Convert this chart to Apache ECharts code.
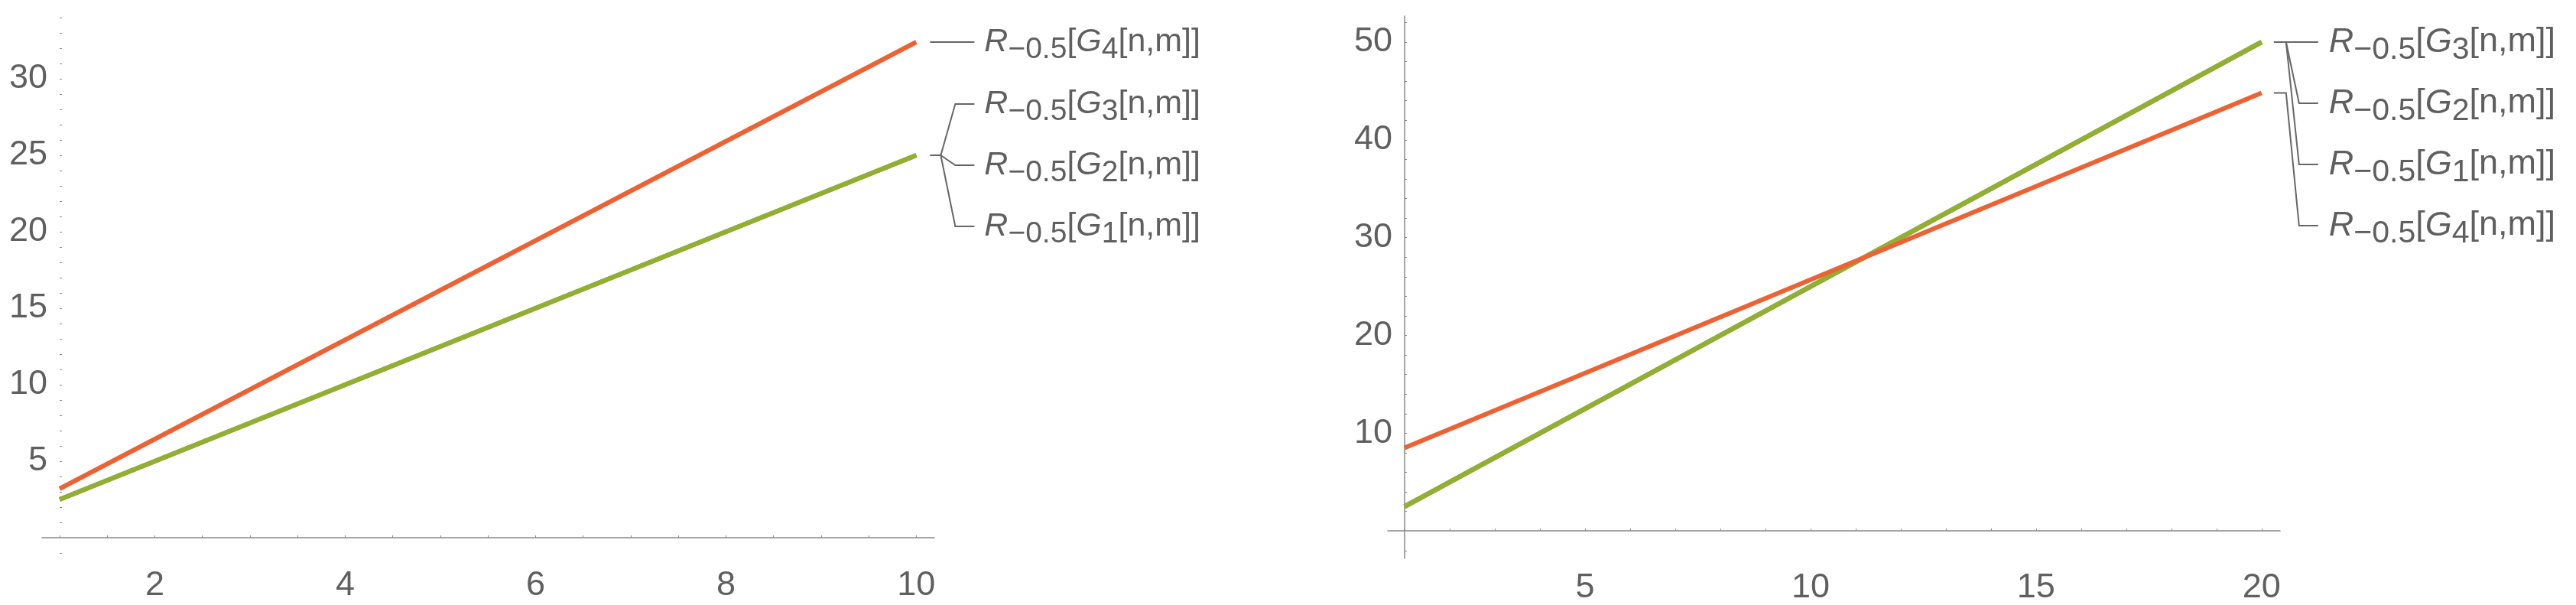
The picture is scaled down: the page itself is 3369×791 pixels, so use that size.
<!DOCTYPE html>
<html>
<head>
  <meta charset="utf-8">
  <title>R_-0.5[G[n,m]]</title>
  <script src="https://cdn.jsdelivr.net/npm/echarts@6/dist/echarts.min.js"></script>
  <style>
    html, body { margin: 0; padding: 0; background: #fff; }
    #main { width: 3369px; height: 791px; }
  </style>
</head>
<body>
<div id="main"></div>
<script>
// ---- data ----
var seriesNames = ['G1', 'G2', 'G3', 'G4'];
var seriesColors = ['#5E81B5', '#E19C24', '#8FB032', '#EB6235'];

// left panel
var leftX  = [1, 10];
var leftG1 = [2.5, 25];
var leftG2 = [2.5, 25];
var leftG3 = [2.5, 25];
var leftG4 = [3.2, 32.4];

// right panel
var rightX  = [1, 20];
var rightG1 = [2.5, 50];
var rightG2 = [2.5, 50];
var rightG3 = [2.5, 50];
var rightG4 = [8.5, 44.8];

// ticks / tick labels
var leftXLabels  = [2, 4, 6, 8, 10];
var leftXTicks   = [1, 1.5, 2, 2.5, 3, 3.5, 4, 4.5, 5, 5.5, 6, 6.5, 7, 7.5, 8, 8.5, 9, 9.5, 10];
var leftYLabels  = [5, 10, 15, 20, 25, 30];
var leftYTicks   = [-1, 1, 2, 3, 4, 5, 6, 7, 8, 9, 10, 11, 12, 13, 14, 15, 16, 17, 18, 19, 20,
                    21, 22, 23, 24, 25, 26, 27, 28, 29, 30, 31, 32, 33, 34];
var rightXLabels = [5, 10, 15, 20];
var rightXTicks  = [1, 2, 3, 4, 5, 6, 7, 8, 9, 10, 11, 12, 13, 14, 15, 16, 17, 18, 19, 20];
var rightYLabels = [10, 20, 30, 40, 50];
var rightYTicks  = [-2, 2, 4, 6, 8, 10, 12, 14, 16, 18, 20, 22, 24, 26, 28, 30,
                    32, 34, 36, 38, 40, 42, 44, 46, 48, 50, 52];

var FONT = '"Liberation Sans", Arial, sans-serif';
var TXT = '#5f5f5f';
var AXIS = '#888888';

function pairs(xs, ys) {
  return xs.map(function (x, i) { return [x, ys[i]]; });
}

function xAxisCfg(grid, min, max, labels, ticks) {
  return {
    type: 'value', gridIndex: grid, min: min, max: max,
    axisLine: { show: true, onZero: true, lineStyle: { color: AXIS, width: 1.5 } },
    axisTick: { show: true, inside: true, length: 3, customValues: ticks, lineStyle: { color: AXIS } },
    axisLabel: { customValues: labels, margin: 16, color: TXT, fontSize: 45, fontFamily: FONT },
    splitLine: { show: false }
  };
}

function yAxisCfg(grid, min, max, labels, ticks, offset, showLine) {
  return {
    type: 'value', gridIndex: grid, min: min, max: max, offset: offset,
    axisLine: { show: showLine, onZero: false, lineStyle: { color: AXIS, width: 1.5 } },
    axisTick: { show: true, inside: true, length: 3, customValues: ticks, lineStyle: { color: AXIS } },
    axisLabel: { customValues: labels, margin: 16, color: TXT, fontSize: 45, fontFamily: FONT },
    splitLine: { show: false }
  };
}

var leftData = [leftG1, leftG2, leftG3, leftG4];
var rightData = [rightG1, rightG2, rightG3, rightG4];
var series = [];
seriesNames.forEach(function (nm, i) {
  series.push({
    name: 'L-' + nm, type: 'line', xAxisIndex: 0, yAxisIndex: 0,
    data: pairs(leftX, leftData[i]), showSymbol: false, silent: true,
    lineStyle: { color: seriesColors[i], width: 6, cap: 'butt' }
  });
});
seriesNames.forEach(function (nm, i) {
  series.push({
    name: 'R-' + nm, type: 'line', xAxisIndex: 1, yAxisIndex: 1,
    data: pairs(rightX, rightData[i]), showSymbol: false, silent: true,
    lineStyle: { color: seriesColors[i], width: 6, cap: 'butt' }
  });
});

var chart = echarts.init(document.getElementById('main'));
chart.setOption({
  animation: false,
  backgroundColor: '#ffffff',
  grid: [
    { left: 55, right: 2147, top: 19, bottom: 64 },
    { left: 1815, right: 387, top: 21, bottom: 51.7 }
  ],
  xAxis: [
    xAxisCfg(0, 0.815, 10.19, leftXLabels, leftXTicks),
    xAxisCfg(1, 0.627, 20.41, rightXLabels, rightXTicks)
  ],
  yAxis: [
    yAxisCfg(0, -1.2, 34.2, leftYLabels, leftYTicks, -23, false),
    yAxisCfg(1, -2.8, 52.66, rightYLabels, rightYTicks, -22, true)
  ],
  series: series
});

// ---- callout labels ----
function labelText(k) {
  return '{r|R}{s|\u22120.5}{b|[}{g|G}{s|' + k + '}{b|[n,m]]}';
}
function richFor(main, sub, pad) {
  return {
    r: { fontStyle: 'italic', fontSize: main, lineHeight: main, verticalAlign: 'top', fontFamily: FONT },
    g: { fontStyle: 'italic', fontSize: main, lineHeight: main, verticalAlign: 'top', fontFamily: FONT },
    b: { fontSize: main, lineHeight: main, verticalAlign: 'top', fontFamily: FONT },
    s: { fontSize: sub, lineHeight: sub, padding: [pad, 0, 0, 0], verticalAlign: 'top', fontFamily: FONT }
  };
}
function txt(x, rowY, k, main, sub, pad) {
  return {
    type: 'text', x: x, y: rowY - main / 2, silent: true,
    style: { text: labelText(k), rich: richFor(main, sub, pad), fill: TXT,
             fontFamily: FONT, fontSize: main, verticalAlign: 'top', align: 'left' }
  };
}
function poly(pts) {
  return { type: 'polyline', silent: true, shape: { points: pts },
           style: { stroke: '#666666', lineWidth: 2, fill: null } };
}

var graphics = [];
// left panel
var lo = chart.convertToPixel({ gridIndex: 0 }, [leftX[1], leftG4[1]]);
var lg = chart.convertToPixel({ gridIndex: 0 }, [leftX[1], leftG3[1]]);
var lRows = [lo[1], lo[1] + 81, lo[1] + 161, lo[1] + 241]; // G4, G3, G2, G1
var lTx = lo[0] + 89;
graphics.push(poly([[lo[0] + 18, lo[1]], [lo[0] + 76, lo[1]]]));
graphics.push(poly([[lg[0] + 18, lg[1]], [lg[0] + 32, lg[1]]]));
[1, 2, 3].forEach(function (r) {
  graphics.push(poly([[lg[0] + 32, lg[1]], [lg[0] + 51, lRows[r]], [lg[0] + 76, lRows[r]]]));
});
graphics.push(txt(lTx, lRows[0], 4, 43, 39, 12));
graphics.push(txt(lTx, lRows[1], 3, 43, 39, 12));
graphics.push(txt(lTx, lRows[2], 2, 43, 39, 12));
graphics.push(txt(lTx, lRows[3], 1, 43, 39, 12));

// right panel
var rg = chart.convertToPixel({ gridIndex: 1 }, [rightX[1], rightG3[1]]);
var ro = chart.convertToPixel({ gridIndex: 1 }, [rightX[1], rightG4[1]]);
var rRows = [rg[1], rg[1] + 80, rg[1] + 160, rg[1] + 240]; // G3, G2, G1, G4
var rTx = rg[0] + 88;
graphics.push(poly([[rg[0] + 16, rg[1]], [rg[0] + 74, rg[1]]]));
[1, 2].forEach(function (r) {
  graphics.push(poly([[rg[0] + 32, rg[1]], [rg[0] + 49, rRows[r]], [rg[0] + 74, rRows[r]]]));
});
graphics.push(poly([[ro[0] + 16, ro[1]], [ro[0] + 32, ro[1]], [ro[0] + 49, rRows[3]], [ro[0] + 74, rRows[3]]]));
graphics.push(txt(rTx, rRows[0], 3, 45, 41, 13));
graphics.push(txt(rTx, rRows[1], 2, 45, 41, 13));
graphics.push(txt(rTx, rRows[2], 1, 45, 41, 13));
graphics.push(txt(rTx, rRows[3], 4, 45, 41, 13));

chart.setOption({ graphic: graphics });
</script>
</body>
</html>
